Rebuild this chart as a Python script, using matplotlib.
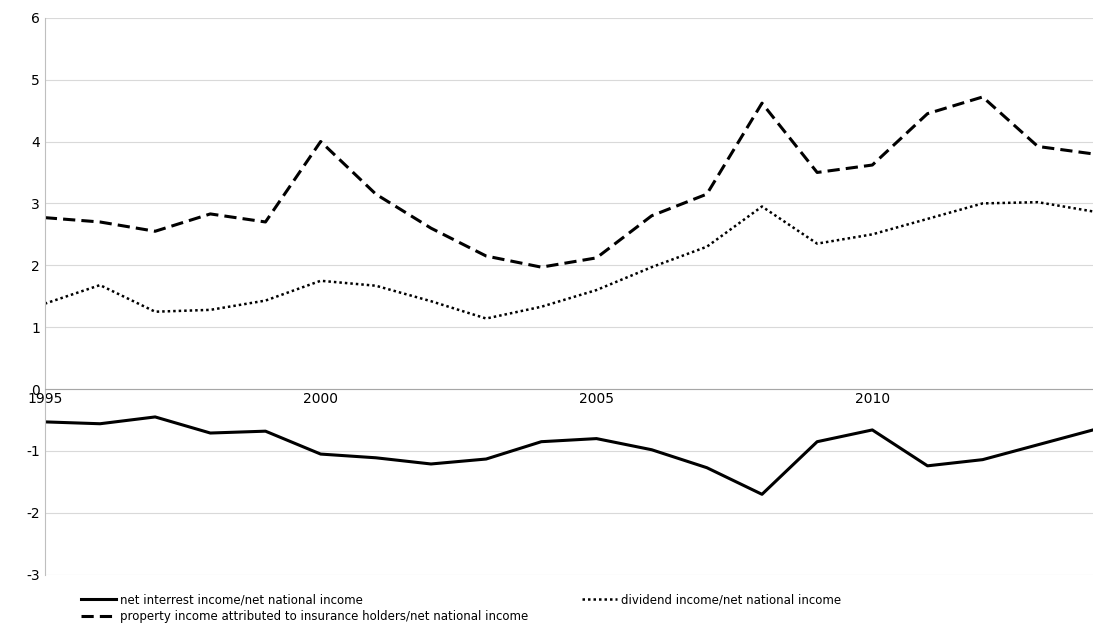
import matplotlib
matplotlib.use("Agg")
import matplotlib.pyplot as plt

years = list(range(1995, 2015))
interest = [-0.53, -0.56, -0.45, -0.71, -0.68, -1.05, -1.11, -1.21, -1.13, -0.85,
            -0.80, -0.98, -1.27, -1.70, -0.85, -0.66, -1.24, -1.14, -0.90, -0.66]
dividend = [1.38, 1.68, 1.25, 1.28, 1.43, 1.75, 1.67, 1.42, 1.14, 1.33,
            1.60, 1.97, 2.30, 2.95, 2.35, 2.50, 2.75, 3.00, 3.02, 2.87]
insurance = [2.77, 2.70, 2.55, 2.83, 2.70, 4.00, 3.15, 2.60, 2.15, 1.97,
             2.12, 2.80, 3.15, 4.62, 3.50, 3.62, 4.45, 4.72, 3.92, 3.80]
labels = ["net interrest income/net national income",
          "dividend income/net national income",
          "property income attributed to insurance holders/net national income"]

plt.rcParams['font.family'] = ['Verdana', 'DejaVu Sans']
plt.rcParams['axes.unicode_minus'] = False
fig = plt.figure(figsize=(10.93, 6.33), dpi=100)
ax = fig.add_axes([0.041, 0.092, 0.959, 0.88])
h1, = ax.plot(years, interest, color='black', lw=2.2)
h2, = ax.plot(years, dividend, color='black', lw=1.8, ls=(0, (1, 1.2)))
h3, = ax.plot(years, insurance, color='black', lw=2.2, ls=(0, (4, 2)))
ax.set_xlim(1995, 2014)
ax.set_ylim(-3, 6)
ax.set_yticks(range(-3, 7))
ax.set_xticks([1995, 2000, 2005, 2010])
ax.grid(axis='y', color='#d9d9d9', lw=0.8)
ax.set_axisbelow(True)
for s in ['top', 'right']:
    ax.spines[s].set_visible(False)
ax.spines['left'].set_color('#bfbfbf')
ax.spines['bottom'].set_position(('data', 0))
ax.spines['bottom'].set_color('#a6a6a6')
ax.tick_params(axis='x', length=0, pad=2, labelsize=10)
ax.tick_params(axis='y', length=0, labelsize=10)
kw = dict(frameon=False, fontsize=8.5, handlelength=3, handletextpad=0.3, labelspacing=0.3,
          loc='upper left', borderaxespad=0)
leg1 = ax.legend([h1, h3], [labels[0], labels[2]], bbox_to_anchor=(0.03, -0.025), **kw)
ax.add_artist(leg1)
ax.legend([h2], [labels[1]], bbox_to_anchor=(0.508, -0.025), **kw)
fig.savefig('out.png')
